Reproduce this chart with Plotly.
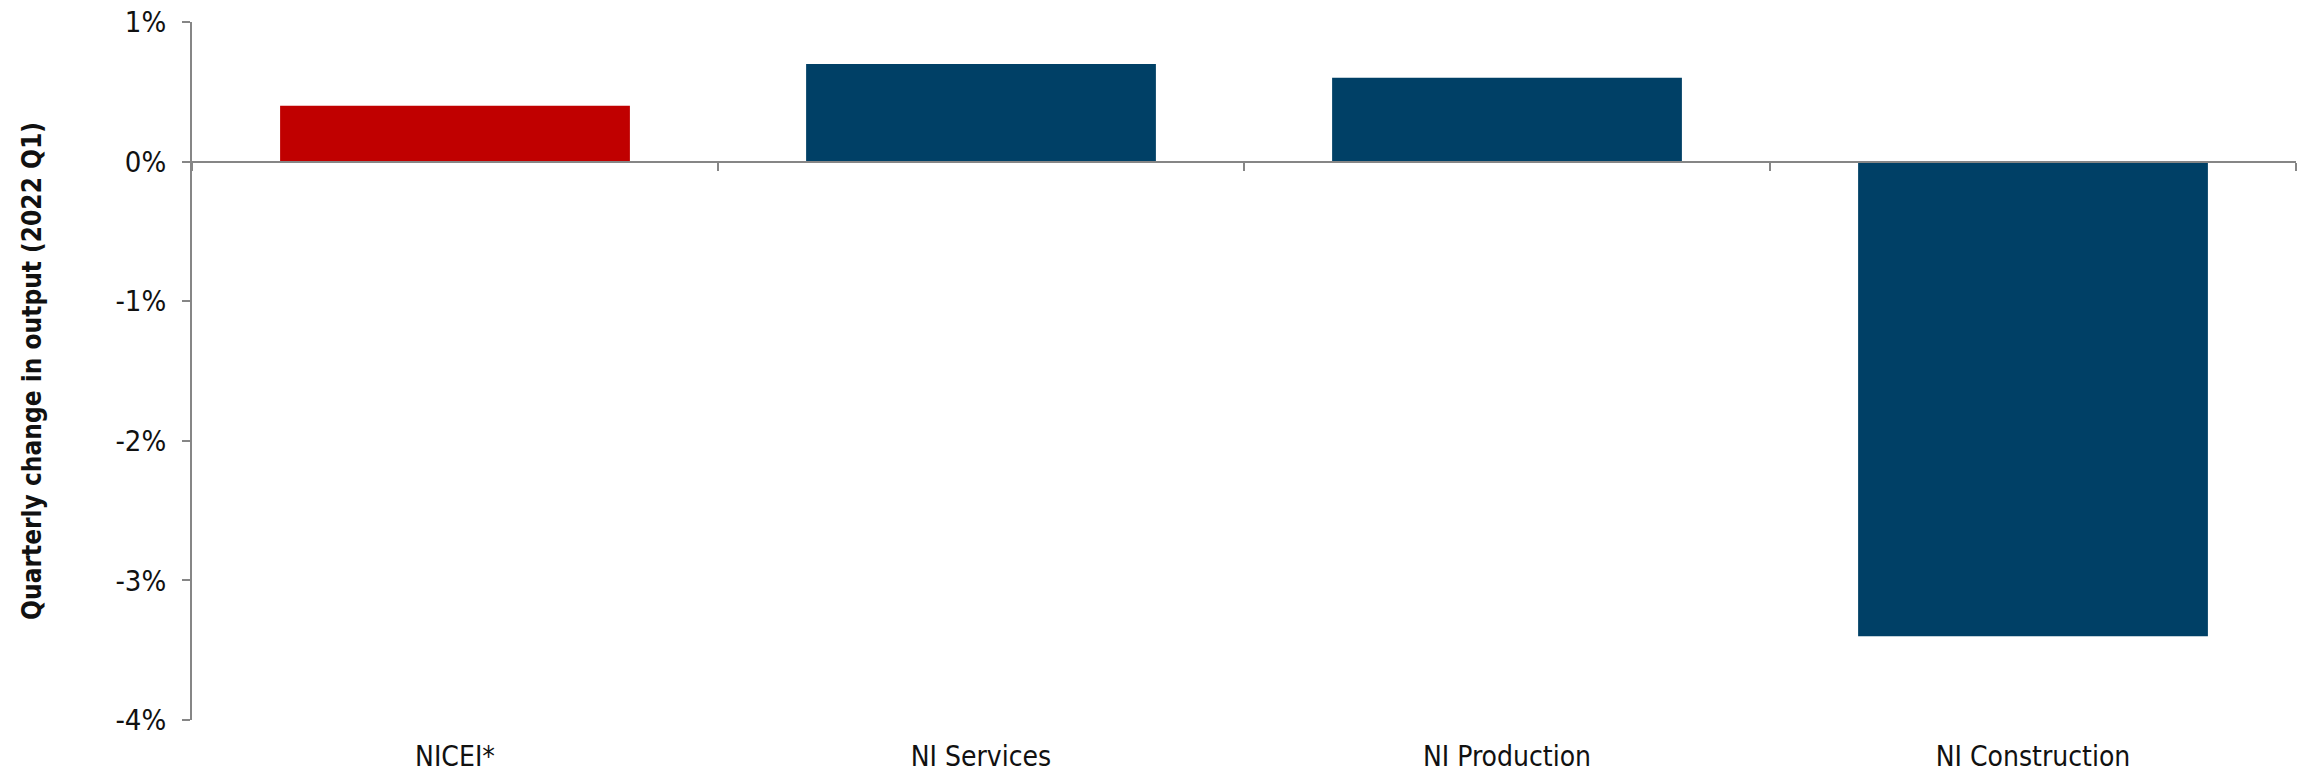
import plotly.graph_objects as go

categories = ["NICEI*", "NI Services", "NI Production", "NI Construction"]
changes = [0.4, 0.7, 0.6, -3.4]
bar_colors = ["#C00000", "#004066", "#004066", "#004066"]
y_ticks = [1, 0, -1, -2, -3, -4]
y_tick_text = ["1%", "0%", "-1%", "-2%", "-3%", "-4%"]
y_title = "Quarterly change in output (2022 Q1)"

FONT = "DejaVu Sans Condensed"
AXIS_GREY = "#868686"

fig = go.Figure()
fig.add_trace(go.Bar(
    x=categories, y=changes,
    marker=dict(color=bar_colors, line=dict(width=0)),
    width=0.665, xaxis="x", yaxis="y", hoverinfo="x+y",
))
# companion trace so the zero-level axis (with boundary ticks) renders
fig.add_trace(go.Scatter(
    x=categories, y=[0] * len(categories), mode="markers",
    marker=dict(opacity=0), xaxis="x2", yaxis="y", hoverinfo="skip",
    showlegend=False,
))

fig.update_layout(
    width=2306, height=773,
    margin=dict(l=192, r=10, t=22, b=53),
    paper_bgcolor="white", plot_bgcolor="white",
    showlegend=False,
    font=dict(family=FONT, color="#111111", size=26),
    xaxis=dict(
        type="category", categoryorder="array", categoryarray=categories,
        showline=False, ticks="", showgrid=False, zeroline=False,
        automargin=False,
        tickfont=dict(family=FONT, size=28, color="#111111"),
        ticklabelstandoff=17,
    ),
    xaxis2=dict(
        type="category", categoryorder="array", categoryarray=categories,
        overlaying="x", matches="x", anchor="free", position=0.8,
        showline=True, linecolor=AXIS_GREY, linewidth=2,
        ticks="outside", tickson="boundaries", ticklen=8, tickwidth=2,
        tickcolor=AXIS_GREY, showticklabels=False, showgrid=False,
        zeroline=False, automargin=False,
    ),
    yaxis=dict(
        range=[-4, 1], tickvals=y_ticks, ticktext=y_tick_text,
        showline=True, linecolor=AXIS_GREY, linewidth=2,
        ticks="outside", ticklen=8, tickwidth=2, tickcolor=AXIS_GREY,
        showgrid=False, zeroline=False, automargin=False,
        tickfont=dict(family=FONT, size=29, color="#111111"),
        ticklabelstandoff=10,
        title=dict(text=y_title, standoff=66,
                   font=dict(family=FONT, size=26, color="#111111", weight="bold")),
    ),
    bargap=0.335,
)

fig.write_html("out.html")
